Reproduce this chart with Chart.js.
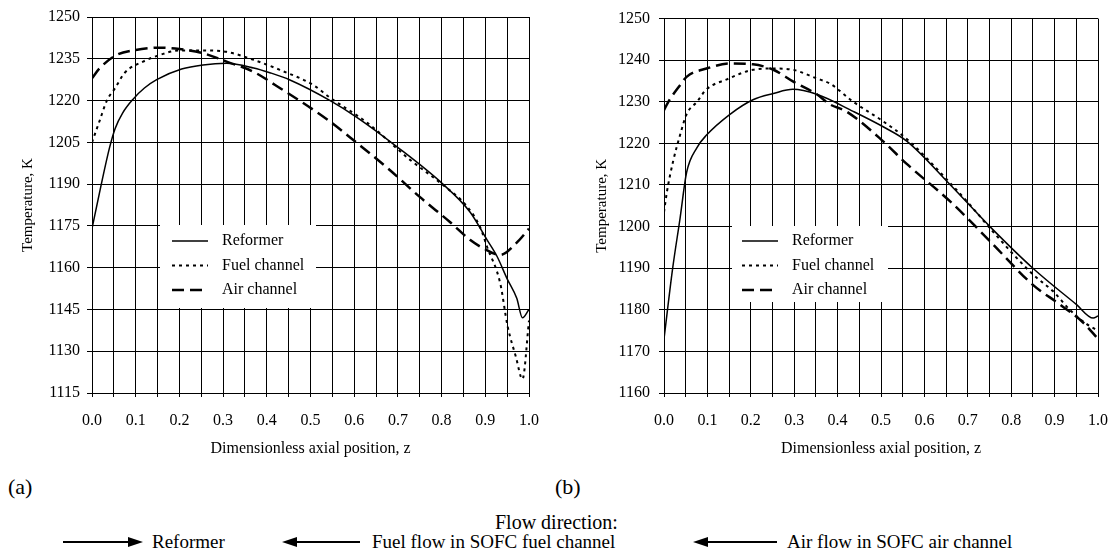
<!DOCTYPE html>
<html>
<head>
<meta charset="utf-8">
<script src="https://cdn.jsdelivr.net/npm/chart.js@4.4.1/dist/chart.umd.min.js"></script>
<style>
  body { margin: 0; background: #fff; width: 1113px; height: 559px; position: relative; overflow: hidden; font-family: "Liberation Serif", "Times New Roman", serif; color: #000; }
  .box { position: absolute; }
  .lbl { position: absolute; white-space: nowrap; font-size: 19px; line-height: 22px; }
  .line { position: absolute; height: 2px; background: #000; }
  .head-r { position: absolute; width: 0; height: 0; border-top: 5px solid transparent; border-bottom: 5px solid transparent; border-left: 15px solid #000; }
  .head-l { position: absolute; width: 0; height: 0; border-top: 5px solid transparent; border-bottom: 5px solid transparent; border-right: 15px solid #000; }
</style>
</head>
<body>
<div class="box" style="left:0;top:0;width:545px;height:470px"><canvas id="chartA"></canvas></div>
<div class="box" style="left:560px;top:0;width:553px;height:470px"><canvas id="chartB"></canvas></div>

<div class="lbl" style="left:8px;top:475px;font-size:22px;line-height:24px">(a)</div>
<div class="lbl" style="left:555px;top:475px;font-size:22px;line-height:24px">(b)</div>
<div class="lbl" style="left:495px;top:511px;font-size:20px">Flow direction:</div>

<div class="line" style="left:63px;top:541px;width:66px"></div>
<div class="head-r" style="left:128px;top:537px"></div>
<div class="lbl" style="left:152px;top:531px">Reformer</div>

<div class="head-l" style="left:282px;top:537px"></div>
<div class="line" style="left:296px;top:541px;width:64px"></div>
<div class="lbl" style="left:372px;top:531px">Fuel flow in SOFC fuel channel</div>

<div class="head-l" style="left:693px;top:537px"></div>
<div class="line" style="left:707px;top:541px;width:70px"></div>
<div class="lbl" style="left:787px;top:531px">Air flow in SOFC air channel</div>

<script>
// chart (a)
const aRefZ = [0, 0.02, 0.04, 0.053, 0.07, 0.094, 0.12, 0.148, 0.205, 0.254, 0.308, 0.37, 0.407, 0.453, 0.545, 0.606, 0.698, 0.803, 0.865, 0.904, 0.927, 0.95, 0.972, 0.985, 1.0];
const aRefT = [1174, 1189, 1203, 1210, 1215.5, 1220.5, 1224.5, 1227.5, 1231.3, 1232.8, 1233.4, 1231.7, 1230, 1227.4, 1220, 1214, 1203.4, 1190, 1180, 1170, 1164, 1156, 1149, 1142, 1145];
const aFuelZ = [0, 0.018, 0.034, 0.053, 0.075, 0.117, 0.156, 0.2, 0.254, 0.308, 0.37, 0.43, 0.506, 0.545, 0.63, 0.728, 0.803, 0.858, 0.888, 0.904, 0.934, 0.951, 0.97, 0.985, 1.0];
const aFuelT = [1205, 1213, 1220, 1224.5, 1230, 1234, 1236.4, 1238, 1238, 1237.5, 1234.6, 1231, 1225.6, 1221, 1212, 1198.7, 1189.7, 1182, 1174.6, 1167.5, 1154.5, 1139, 1128, 1120, 1141];
const aAirZ = [0, 0.018, 0.057, 0.094, 0.156, 0.2, 0.254, 0.308, 0.37, 0.419, 0.54, 0.606, 0.682, 0.75, 0.819, 0.865, 0.895, 0.934, 0.972, 1.0];
const aAirT = [1228, 1231.7, 1236.4, 1238, 1239, 1238.5, 1237, 1234, 1230.3, 1225.6, 1213, 1204.8, 1195, 1185.4, 1176.4, 1170, 1167, 1164.6, 1169, 1174];

// chart (b)
const bRefZ = [0, 0.02, 0.037, 0.052, 0.076, 0.098, 0.152, 0.205, 0.252, 0.297, 0.352, 0.436, 0.505, 0.56, 0.66, 0.751, 0.85, 0.95, 0.989, 1.0];
const bRefT = [1173, 1190, 1202, 1213, 1219, 1222, 1227, 1230.5, 1232, 1233, 1231.8, 1227.7, 1224, 1220.5, 1210, 1200, 1190, 1181.3, 1178, 1178.5];
const bFuelZ = [0, 0.007, 0.021, 0.037, 0.052, 0.076, 0.098, 0.145, 0.205, 0.252, 0.297, 0.352, 0.382, 0.436, 0.505, 0.56, 0.66, 0.712, 0.751, 0.85, 0.896, 0.935, 0.975, 1.0];
const bFuelT = [1203.5, 1208.5, 1215.7, 1222, 1227, 1230, 1233, 1235.4, 1237.7, 1238, 1237.7, 1235.6, 1234.4, 1230, 1225.3, 1221, 1210.4, 1204.4, 1199.6, 1188.5, 1184.5, 1180, 1176.5, 1175];
const bAirZ = [0, 0.01, 0.037, 0.052, 0.098, 0.152, 0.205, 0.252, 0.297, 0.352, 0.382, 0.42, 0.505, 0.56, 0.66, 0.751, 0.85, 0.912, 0.965, 1.0];
const bAirT = [1228, 1230, 1234, 1236, 1238, 1239.2, 1239, 1237.7, 1234.9, 1231.8, 1229.4, 1227.7, 1220.5, 1215, 1206, 1196.5, 1186, 1181.3, 1177, 1173];

const seriesNames = ["Reformer", "Fuel channel", "Air channel"];
const xTickLabels = ["0.0", "0.1", "0.2", "0.3", "0.4", "0.5", "0.6", "0.7", "0.8", "0.9", "1.0"];

const FONT = "'Liberation Serif', 'Times New Roman', serif";

function pts(zs, ts) {
    return zs.map(function (z, i) { return { x: z, y: ts[i] }; });
}

function makeDatasets(ref, fuel, air) {
    return [
        { label: seriesNames[0], data: ref, borderColor: "#000", borderWidth: 1.5, borderDash: [], pointRadius: 0, cubicInterpolationMode: "monotone", fill: false },
        { label: seriesNames[1], data: fuel, borderColor: "#000", borderWidth: 2, borderDash: [3, 4], pointRadius: 0, cubicInterpolationMode: "monotone", fill: false },
        { label: seriesNames[2], data: air, borderColor: "#000", borderWidth: 2.5, borderDash: [12, 6], pointRadius: 0, cubicInterpolationMode: "monotone", fill: false },
    ];
}

// white legend box drawn inside the plot
const boxLegend = {
    id: "boxLegend",
    afterDatasetsDraw: function (chart, args, opts) {
        const ctx = chart.ctx;
        ctx.save();
        ctx.fillStyle = "#fff";
        ctx.fillRect(opts.x, opts.y, opts.w, opts.h);
        ctx.font = "16px " + FONT;
        ctx.textBaseline = "middle";
        ctx.fillStyle = "#000";
        chart.data.datasets.forEach(function (ds, i) {
            const y = opts.rows[i];
            ctx.strokeStyle = "#000";
            ctx.lineWidth = ds.borderWidth;
            ctx.setLineDash(ds.borderDash);
            ctx.beginPath();
            ctx.moveTo(opts.sx, y);
            ctx.lineTo(opts.sx + opts.sw, y);
            ctx.stroke();
            ctx.setLineDash([]);
            ctx.fillText(ds.label, opts.tx, y);
        });
        ctx.restore();
    }
};

function makeChart(id, datasets, yMin, yMax, yStep, yWidth, titlePad, tickPad, padRight, legendOpts) {
    return new Chart(document.getElementById(id), {
        type: "line",
        data: { datasets: datasets },
        plugins: [boxLegend],
        options: {
            responsive: true,
            maintainAspectRatio: false,
            animation: false,
            layout: { padding: { top: 17, right: padRight, left: 0, bottom: 0 } },
            plugins: {
                legend: { display: false },
                tooltip: { enabled: false },
                boxLegend: legendOpts,
            },
            scales: {
                x: {
                    type: "linear",
                    min: 0,
                    max: 1,
                    ticks: {
                        stepSize: 0.05,
                        autoSkip: false,
                        maxRotation: 0,
                        padding: 14,
                        color: "#000",
                        font: { family: FONT, size: 16 },
                        callback: function (v) {
                            const k = Math.round(v * 100);
                            return k % 10 === 0 ? xTickLabels[k / 10] : "";
                        },
                    },
                    grid: { color: "#000", lineWidth: 1, tickLength: 4, tickColor: "#000" },
                    border: { color: "#000", width: 1 },
                    title: { display: true, text: "Dimensionless axial position, z", color: "#000", font: { family: FONT, size: 16 }, padding: { top: 4, bottom: 12 } },
                    afterFit: function (s) {
                        s.height = 77;
                        // tick padding is otherwise added to the right overhang
                        s.paddingRight = 11;
                    },
                },
                y: {
                    min: yMin,
                    max: yMax,
                    ticks: { stepSize: yStep, padding: tickPad, color: "#000", font: { family: FONT, size: 16 }, callback: function (v) { return String(v); } },
                    grid: { color: "#000", lineWidth: 1, tickLength: 5, tickColor: "#000" },
                    border: { color: "#000", width: 1 },
                    title: { display: true, text: "Temperature, K", color: "#000", font: { family: FONT, size: 15 }, padding: { top: titlePad, bottom: 0 } },
                    afterFit: function (s) { s.width = yWidth; },
                },
            },
        },
    });
}

makeChart("chartA",
    makeDatasets(pts(aRefZ, aRefT), pts(aFuelZ, aFuelT), pts(aAirZ, aAirT)),
    1115, 1250, 15, 92, 19, 7, 16,
    { x: 160, y: 225, w: 156, h: 83, sx: 172, sw: 36, tx: 222, rows: [241, 265.5, 290] });

makeChart("chartB",
    makeDatasets(pts(bRefZ, bRefT), pts(bFuelZ, bFuelT), pts(bAirZ, bAirT)),
    1160, 1250, 10, 104, 33, 9, 15,
    { x: 172, y: 226, w: 156, h: 76, sx: 182, sw: 36, tx: 232, rows: [241, 265.5, 290] });
</script>
</body>
</html>
